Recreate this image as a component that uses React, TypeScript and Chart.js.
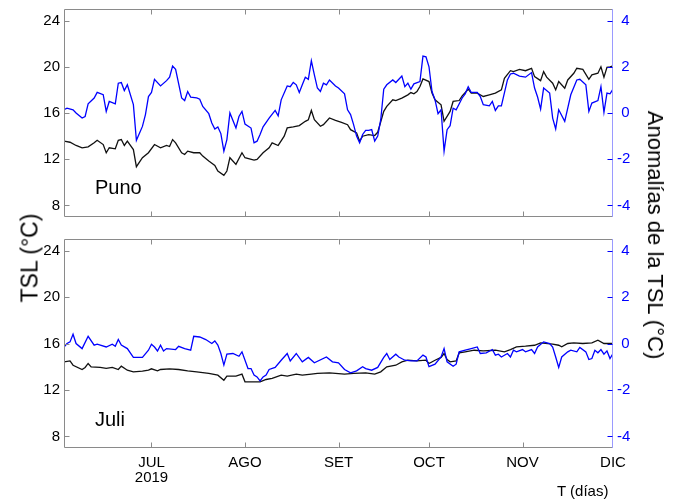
import React, { useEffect, useRef } from "react";
import { Chart, registerables } from "chart.js";
Chart.register(...registerables);

// Day index: 0 = 1 June 2019
const X_MIN = 1;
const X_MAX = 183;
const MONTH_DAYS = [30, 61, 92, 122, 153, 183];
const MONTH_LABELS: (string | string[])[] = [["JUL", "2019"], "AGO", "SET", "OCT", "NOV", "DIC"];
const LEFT_TICKS = [8, 12, 16, 20, 24];
const RIGHT_TICKS = [-4, -2, 0, 2, 4];

const punoTslDays = [1,3,5,7,9,11,12,14,15,16,18,19,20,21,22,24,25,27,29,31,33,35,36,37,38,40,41,42,44,46,47,49,51,52,54,55,56,58,60,61,64,65,67,69,70,72,74,75,77,79,81,82,83,84,86,87,89,91,93,95,96,98,99,100,102,104,105,107,108,110,111,113,115,116,117,118,119,120,122,123,124,126,127,129,130,132,133,135,136,138,140,142,144,146,147,149,150,152,154,156,157,159,160,161,163,164,165,167,168,170,171,173,175,176,178,179,180,181,182,183];
const punoTsl = [13.56,13.47,13.19,12.99,13.07,13.42,13.64,13.27,12.56,12.99,12.9,13.64,13.7,13.19,13.56,12.84,11.35,12.13,12.56,13.27,12.99,13.19,13.1,13.7,13.42,12.56,12.41,12.7,12.56,12.56,12.27,11.84,11.47,10.98,10.6,10.98,12.13,11.55,12.56,12.13,11.92,11.98,12.56,12.99,13.42,13.19,13.99,14.71,14.8,14.91,15.28,15.42,16.22,15.42,14.85,14.99,15.57,15.36,15.19,14.99,14.56,14.28,13.56,13.99,14.13,14.05,14.33,16.14,16.57,17.14,17.08,17.29,17.57,17.77,17.66,17.86,18.29,18.95,18.72,17.72,17.14,16.71,15.28,16.14,17.0,17.08,17.49,18.06,17.72,17.72,17.43,17.57,17.72,18.0,19.0,19.66,19.58,19.78,19.66,19.87,19.15,18.8,19.58,19.1,18.58,18.0,18.72,18.15,18.86,19.44,19.87,19.78,18.92,19.3,19.44,20.0,19.1,19.96,20.0,20.07];

const punoAnomDays = [1,2,4,5,7,8,9,11,12,14,15,16,18,19,20,21,22,24,25,27,28,29,30,31,33,35,36,37,38,40,41,42,43,45,46,47,49,50,51,52,53,54,55,56,58,59,60,61,63,64,65,66,67,69,71,72,73,75,76,77,78,79,80,81,82,83,84,85,86,87,88,89,91,92,94,95,96,97,98,99,100,101,102,103,104,105,106,107,108,110,111,113,114,115,116,117,119,120,121,122,123,124,125,126,127,128,129,130,131,133,134,135,136,138,139,140,142,143,144,145,146,148,149,150,152,154,156,157,158,159,160,162,163,164,165,167,169,171,172,174,175,176,178,179,180,181,182,183];
const punoAnom = [0.14,0.21,0.14,0,-0.22,-0.15,0.4,0.65,0.89,0.79,0.07,0.5,0.4,1.29,1.32,0.97,1.22,0.36,-1.18,-0.58,-0.07,0.71,0.89,1.46,1.17,1.4,1.55,2.03,1.89,0.65,0.54,0.93,0.69,0.65,0.6,0.28,-0.03,-0.43,-0.69,-0.6,-0.89,-1.65,-1.15,0,-0.65,-0.15,0.07,-0.48,-0.65,-1.29,-1.22,-0.93,-0.6,-0.22,0.11,-0.12,0.57,1.17,1.14,1.32,1.22,0.89,1.22,1.55,1.46,2.26,1.65,1.08,0.93,1.29,1.22,1.43,1.17,1.08,0.83,0.14,-0.07,-0.5,-1.0,-1.29,-0.93,-0.75,-0.75,-0.72,-1.22,-1.0,-0.29,1.03,1.22,1.43,1.32,1.6,1.14,1.29,1.03,1.26,1.36,2.46,2.43,2.0,0.93,0.57,-0.03,0.14,-1.65,-0.72,-0.55,0.21,0.14,0.65,0.83,1.14,0.89,0.89,0.71,0.36,0.31,0.5,0.11,0.31,0.31,1.43,1.69,1.72,1.6,1.55,1.75,1.08,0.69,0.17,1.08,0.86,-0.22,-0.69,0.14,-0.36,0.79,1.43,1.46,1.22,0.07,0.43,0.54,1.14,0.03,0.86,0.83,1.03];

const juliTslDays = [1,3,4,7,8,9,10,13,15,17,19,20,22,24,27,29,30,32,33,36,39,42,45,49,52,54,55,58,60,61,63,66,68,70,73,75,78,80,83,85,89,91,94,97,101,104,106,108,111,113,115,118,121,122,124,126,127,128,129,131,132,134,137,140,144,147,149,151,154,157,159,163,165,166,168,170,173,176,178,180,183];
const juliTsl = [14.42,14.5,14.13,13.76,13.94,14.28,13.99,13.94,13.85,13.94,13.76,14.05,13.7,13.56,13.62,13.7,13.82,13.65,13.76,13.82,13.76,13.65,13.56,13.42,13.27,12.84,13.19,13.19,13.36,12.7,12.7,12.7,12.9,12.99,13.27,13.19,13.36,13.27,13.36,13.42,13.47,13.42,13.36,13.42,13.47,13.36,13.56,13.99,14.13,14.42,14.56,14.5,14.56,14.28,14.56,14.8,15.14,14.62,14.42,14.5,15.19,15.28,15.42,15.36,15.42,15.28,15.48,15.71,15.77,15.85,16.05,15.94,15.85,15.71,16.0,16.05,16.0,16.05,16.28,16.0,16.0];

const juliAnomDays = [1,2,3,4,5,7,9,11,12,15,17,18,19,20,22,24,27,29,30,31,32,33,34,35,38,39,41,43,44,46,48,50,51,52,53,54,55,57,59,60,62,63,64,65,66,67,68,69,71,73,75,76,78,80,82,84,88,90,92,94,96,98,100,101,103,105,107,108,109,111,112,114,116,118,120,121,122,124,126,127,128,130,131,132,134,136,138,139,141,143,144,145,146,148,149,150,151,153,154,156,157,158,160,162,163,164,165,166,168,169,171,172,174,175,176,177,178,179,180,181,182,183];
const juliAnom = [-0.15,0,0.07,0.4,0,-0.22,0.31,-0.07,-0.03,-0.15,-0.03,-0.12,0.17,-0.07,-0.22,-0.6,-0.6,-0.29,-0.03,-0.15,-0.32,-0.07,-0.32,-0.22,-0.26,-0.12,-0.22,-0.29,0.31,0.28,0.17,0,0.11,-0.07,-0.43,-0.93,-0.46,-0.43,-0.55,-0.36,-1.08,-1.08,-1.36,-1.44,-1.61,-1.44,-1.36,-1.12,-1.03,-0.72,-0.43,-0.75,-0.43,-0.79,-0.6,-0.83,-0.58,-0.79,-0.83,-1.12,-1.26,-1.18,-1.0,-1.08,-1.15,-1.03,-0.6,-0.43,-0.69,-0.46,-0.58,-0.72,-0.75,-0.75,-0.5,-0.58,-1.0,-0.89,-0.58,-0.22,-0.79,-0.98,-0.89,-0.36,-0.29,-0.22,-0.15,-0.43,-0.4,-0.26,-0.5,-0.46,-0.58,-0.43,-0.58,-0.29,-0.36,-0.26,-0.36,-0.26,-0.43,-0.15,0.07,0,-0.15,-0.58,-1.03,-0.58,-0.36,-0.29,-0.36,-0.17,-0.36,-0.69,-0.65,-0.29,-0.4,-0.26,-0.46,-0.32,-0.65,-0.43];

const FONT = "'Liberation Sans', Arial, Helvetica, sans-serif";
const BLUE = "#0000ff";
const BLACK = "#111111";
const FRAME = "#8a8a8a";

const framePlugin = {
  id: "frame",
  afterDraw(chart: any) {
    const { ctx, chartArea, scales } = chart;
    const L = Math.round(chartArea.left) + 0.5;
    const R = Math.round(chartArea.right) - 0.5;
    const T = Math.round(chartArea.top) + 0.5;
    const B = Math.round(chartArea.bottom) - 0.5;
    const tl = 5;
    ctx.save();
    ctx.lineWidth = 1;
    ctx.strokeStyle = FRAME;
    ctx.beginPath();
    ctx.moveTo(R, T); ctx.lineTo(L, T); ctx.lineTo(L, B); ctx.lineTo(R, B);
    for (const v of LEFT_TICKS) {
      const y = Math.round(scales.y.getPixelForValue(v)) + 0.5;
      ctx.moveTo(L, y); ctx.lineTo(L + tl, y);
    }
    for (const d of MONTH_DAYS) {
      if (d >= X_MAX) continue;
      const x = Math.round(scales.x.getPixelForValue(d)) + 0.5;
      ctx.moveTo(x, T); ctx.lineTo(x, T + tl);
      ctx.moveTo(x, B); ctx.lineTo(x, B - tl);
    }
    ctx.stroke();
    ctx.strokeStyle = "#9a9aff";
    ctx.beginPath();
    ctx.moveTo(R, T - 0.5); ctx.lineTo(R, B + 0.5);
    ctx.stroke();
    ctx.strokeStyle = BLUE;
    ctx.beginPath();
    for (const v of RIGHT_TICKS) {
      const y = Math.round(scales.y1.getPixelForValue(v)) + 0.5;
      ctx.moveTo(R, y); ctx.lineTo(R - tl, y);
    }
    ctx.stroke();
    ctx.restore();
  },
};

function makeConfig(tDays: number[], tVals: number[], aDays: number[], aVals: number[], showX: boolean): any {
  return {
    type: "line",
    data: {
      datasets: [
        {
          data: aDays.map((d, i) => ({ x: d, y: aVals[i] })),
          yAxisID: "y1",
          borderColor: BLUE,
          borderWidth: 1.3,
          pointRadius: 0,
          tension: 0,
        },
        {
          data: tDays.map((d, i) => ({ x: d, y: tVals[i] })),
          yAxisID: "y",
          borderColor: BLACK,
          borderWidth: 1.3,
          pointRadius: 0,
          tension: 0,
        },
      ],
    },
    options: {
      animation: false,
      responsive: false,
      maintainAspectRatio: false,
      devicePixelRatio: 1,
      layout: { padding: { top: 9, bottom: showX ? 0 : 13, left: 0, right: 0 } },
      plugins: { legend: { display: false }, tooltip: { enabled: false } },
      scales: {
        x: {
          type: "linear",
          min: X_MIN,
          max: X_MAX,
          display: showX,
          grid: { display: false, drawTicks: false },
          border: { display: false },
          afterBuildTicks: (s: any) => { s.ticks = MONTH_DAYS.map((v) => ({ value: v })); },
          afterFit: (s: any) => {
            s.height = showX ? 52 : 0;
            s.paddingLeft = 0;
            s.paddingRight = 0;
          },
          ticks: {
            autoSkip: false,
            maxRotation: 0,
            padding: 7,
            color: "#000",
            font: { family: FONT, size: 15, lineHeight: 1.0 },
            callback: (_v: any, i: number) => MONTH_LABELS[i],
          },
        },
        y: {
          position: "left",
          min: 7,
          max: 25,
          grid: { display: false, drawTicks: false },
          border: { display: false },
          afterBuildTicks: (s: any) => { s.ticks = LEFT_TICKS.map((v) => ({ value: v })); },
          afterFit: (s: any) => { s.width = 64; s.paddingTop = 0; s.paddingBottom = 0; },
          ticks: { padding: 4, color: "#000", font: { family: FONT, size: 15 } },
        },
        y1: {
          position: "right",
          min: -4.5,
          max: 4.5,
          grid: { display: false, drawTicks: false },
          border: { display: false },
          afterBuildTicks: (s: any) => { s.ticks = RIGHT_TICKS.map((v) => ({ value: v })); },
          afterFit: (s: any) => { s.width = 63; s.paddingTop = 0; s.paddingBottom = 0; },
          ticks: {
            padding: 4,
            color: BLUE,
            font: { family: FONT, size: 15 },
            callback: (v: any) => (v < 0 ? String(v) : " " + v),
          },
        },
      },
    },
    plugins: [framePlugin],
  };
}

function Panel(props: { top: number; height: number; cfg: () => any }) {
  const ref = useRef<HTMLCanvasElement | null>(null);
  useEffect(() => {
    if (!ref.current) return;
    const chart = new Chart(ref.current, props.cfg());
    return () => chart.destroy();
  }, []);
  return (
    <canvas
      ref={ref}
      width={676}
      height={props.height}
      style={{ position: "absolute", left: 0, top: props.top, width: 676, height: props.height }}
    />
  );
}

export default function App() {
  const txt: React.CSSProperties = { position: "absolute", fontFamily: FONT, color: "#000", whiteSpace: "nowrap" };
  return (
    <div style={{ position: "absolute", left: 0, top: 0, width: 676, height: 500, background: "#fff", overflow: "hidden" }}>
      <Panel top={0} height={230} cfg={() => makeConfig(punoTslDays, punoTsl, punoAnomDays, punoAnom, false)} />
      <Panel top={230} height={270} cfg={() => makeConfig(juliTslDays, juliTsl, juliAnomDays, juliAnom, true)} />
      <div style={{ ...txt, left: 95, top: 176, fontSize: 20 }}>Puno</div>
      <div style={{ ...txt, left: 95, top: 408, fontSize: 20 }}>Juli</div>
      <div style={{ ...txt, left: 30, top: 258, fontSize: 23, transform: "translate(-50%, -50%) rotate(-90deg)" }}>TSL (°C)</div>
      <div style={{ ...txt, left: 655, top: 235, fontSize: 22, transform: "translate(-50%, -50%) rotate(90deg)" }}>Anomalías de la TSL (°C)</div>
      <div style={{ ...txt, left: 557, top: 482, fontSize: 15 }}>T (días)</div>
    </div>
  );
}
